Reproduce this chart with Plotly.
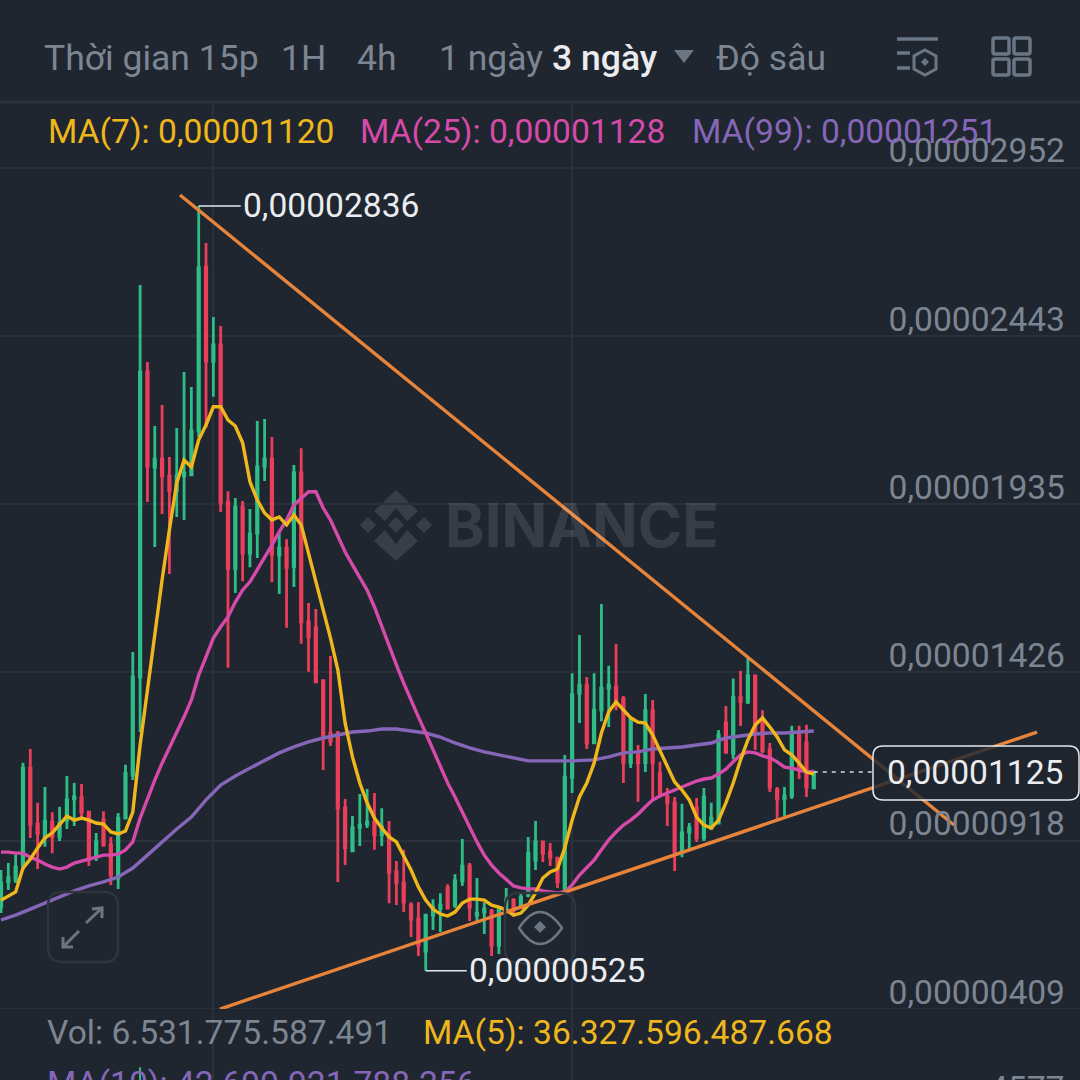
import plotly.graph_objects as go

# prices in units of 0.00000001
opens = [717,793,799,844,1137,968,926,974,929,980,1044,1047,1004,875,980,905,805,986,1116,1412,
 2334,2047,2071,2020,1975,2020,2023,2156,2651,2367,2416,1941,1741,1926,1787,1847,2050,2071,1781,1802,
 1747,2029,1579,1561,1401,1243,1243,1016,887,959,968,974,935,935,823,790,723,681,584,693,
 714,775,723,796,841,693,702,705,602,708,738,717,753,859,914,883,865,769,1110,1364,
 1388,1213,1312,1379,1382,1346,1153,1177,1153,1310,1122,1050,1032,887,944,1016,926,956,971,1273,
 1182,1351,1337,1416,1282,1192,1071,1044,1053,1237,1213,1077]
highs = [829,850,875,1153,1195,1032,1080,1004,1020,1113,1092,1089,1007,941,1007,929,1001,1147,1488,2597,
 2364,2171,2234,2077,2165,2334,2289,2836,2724,2500,2473,1974,1953,1944,1920,2186,2192,2138,1847,1829,
 2053,2104,1636,1618,1401,1476,1249,1044,992,1059,1074,1062,1016,977,856,890,732,732,693,741,
 759,786,816,923,850,805,732,711,714,775,744,759,929,977,917,911,868,1177,1424,1539,
 1412,1424,1633,1446,1512,1355,1288,1207,1361,1343,1156,1077,1050,1029,971,1047,1077,1032,1252,1325,
 1408,1431,1473,1416,1312,1213,1080,1080,1265,1265,1268,1125]
lows = [699,769,790,829,926,832,899,880,917,953,962,989,841,856,899,784,772,986,1101,1246,
 1941,1805,1905,1724,1896,1887,2020,2138,2165,2259,1911,1440,1666,1702,1744,1772,2005,1699,1663,1561,
 1684,1513,1428,1395,1131,1204,793,844,884,902,956,890,902,729,723,702,627,569,525,648,
 642,711,714,781,675,672,636,569,575,699,693,714,747,829,853,841,775,766,1062,1273,
 1195,1210,1279,1261,1312,1092,1137,1035,1125,1044,1050,962,826,868,887,914,917,950,968,1182,
 1164,1264,1331,1192,1182,1065,983,992,1044,1104,1050,1074]
closes = [790,805,838,1137,968,941,977,929,971,1041,1050,1004,866,914,905,814,986,1120,1412,2334,
 2050,2071,2020,1975,2020,2029,2156,2649,2367,2416,1941,1741,1926,1787,1844,2047,2071,1784,1802,1744,
 2029,1579,1534,1398,1237,1219,1016,896,956,965,974,935,959,823,790,732,681,602,693,717,
 723,714,796,841,717,699,711,602,708,738,708,747,880,914,880,868,793,1110,1358,1388,
 1213,1312,1379,1388,1337,1153,1282,1153,1310,1153,1053,1032,884,941,956,926,1050,986,1237,1185,
 1351,1339,1416,1243,1189,1080,1044,1053,1240,1131,1080,1125]

ma7 = [738,750,763,835,862,896,926,941,968,992,980,986,980,971,968,944,938,947,1004,1207,
 1373,1545,1706,1857,1999,2068,2047,2129,2174,2229,2229,2189,2171,2120,2002,1947,1908,1887,1896,1872,
 1902,1872,1787,1696,1615,1530,1434,1273,1171,1092,1032,986,956,929,914,874,829,778,738,711,
 696,690,702,729,741,741,738,723,717,708,693,699,723,760,805,823,832,896,980,1050,
 1092,1152,1243,1307,1337,1313,1289,1276,1273,1237,1189,1140,1095,1071,1041,989,965,956,980,1032,
 1092,1162,1222,1267,1289,1261,1231,1192,1177,1152,1125,1119]
ma25 = [883,883,880,880,868,859,847,838,832,838,850,856,862,868,874,874,877,890,914,986,
 1047,1101,1152,1198,1243,1292,1343,1418,1473,1530,1564,1594,1639,1675,1700,1736,1772,1811,1851,1887,
 1932,1953,1972,1972,1923,1887,1836,1790,1751,1712,1675,1624,1564,1509,1449,1394,1346,1292,1243,1192,
 1137,1092,1050,1004,959,914,874,844,820,799,781,775,772,772,766,763,760,763,784,814,
 835,859,890,920,944,965,980,998,1020,1041,1053,1062,1071,1080,1089,1098,1104,1107,1119,1134,
 1156,1177,1186,1183,1174,1168,1156,1140,1137,1131,1125,1128]
ma99_index = [0,2,4,6,8,10,12,14,16,18,20,22,24,26,28,30,32,34,36,38,40,42,44,46,48,50,52,54,56,58,
 60,62,64,66,68,70,72,74,76,78,81,83,85,87,89,91,93,95,97,99,101,103,105,107,109,111]
ma99 = [678,693,711,729,747,766,781,793,808,835,874,914,953,989,1041,1086,1113,1137,1159,1183,
 1201,1216,1228,1237,1246,1249,1255,1255,1249,1243,1231,1213,1198,1186,1177,1168,1159,1159,1159,1159,
 1162,1171,1183,1186,1195,1198,1201,1207,1213,1228,1234,1240,1243,1243,1246,1249]

trend_upper_x = [24.45, 130.15]
trend_upper_y = [2869, 965]
trend_lower_x = [29.9, 141.5]
trend_lower_y = [409, 1246]
last_price = 1125
last_price_x = [111, 119]
high_point = (27, 2836)
low_point = (58, 525)

spike_index = [19]
spike_volume = [18]

price_ticks = [409, 918, 1426, 1935, 2443, 2952]
price_tick_labels = ["0,00000409", "0,00000918", "0,00001426", "0,00001935", "0,00002443", "0,00002952"]
time_ticks = [29, 78]

BG = "#1F2630"
GRID = "#2B313B"
GREEN = "#2EBD85"
RED = "#EA3F5B"
YEL = "#EFB71C"
PINK = "#D64AAA"
PUR = "#8666B8"
ORANGE = "#E8843A"
GREY = "#7C8592"
ICON = "#6B7684"
WM = "#383E49"
FONT = "Roboto"
SIZE = 33.6
HEAD = 35.5

def X(v):
    return round(v / 1080, 5)

def Y(v):
    return round(1 - v / 1080, 5)

def poly(pts, close=True):
    s = "M " + " L ".join(f"{X(a)} {Y(b)}" for a, b in pts)
    return s + (" Z" if close else "")

def rrect(x0, y0, x1, y1, r):
    return (f"M {X(x0+r)} {Y(y0)} L {X(x1-r)} {Y(y0)} Q {X(x1)} {Y(y0)} {X(x1)} {Y(y0+r)} "
            f"L {X(x1)} {Y(y1-r)} Q {X(x1)} {Y(y1)} {X(x1-r)} {Y(y1)} "
            f"L {X(x0+r)} {Y(y1)} Q {X(x0)} {Y(y1)} {X(x0)} {Y(y1-r)} "
            f"L {X(x0)} {Y(y0+r)} Q {X(x0)} {Y(y0)} {X(x0+r)} {Y(y0)} Z")

def pshape(path, line=None, width=0, fill=None, layer="above"):
    d = dict(type="path", xref="paper", yref="paper", path=path, layer=layer,
             line=dict(color=line or "rgba(0,0,0,0)", width=width))
    if fill:
        d["fillcolor"] = fill
    return d

def txt(s, x, y, color=GREY, size=SIZE, anchor="left", weight=None, family=FONT):
    fnt = dict(family=family, size=size, color=color)
    if weight:
        fnt["weight"] = weight
    px = x - 3 if anchor == "left" else x + 3
    return dict(text=s, x=X(px), y=Y(y), xref="paper", yref="paper", showarrow=False,
                xanchor=anchor, yanchor="middle", font=fnt)

fig = go.Figure()
idx = list(range(len(opens)))
fig.add_trace(go.Bar(x=spike_index, y=spike_volume, yaxis="y2", width=0.22,
                     marker=dict(color=GREEN, line=dict(width=0)), showlegend=False))
fig.add_trace(go.Candlestick(x=idx, open=opens, high=highs, low=lows, close=closes,
    increasing=dict(line=dict(color=GREEN, width=2.8), fillcolor=GREEN),
    decreasing=dict(line=dict(color=RED, width=2.8), fillcolor=RED),
    whiskerwidth=0, showlegend=False))
fig.add_trace(go.Scatter(x=ma99_index, y=ma99, mode="lines", line=dict(color=PUR, width=3.4), showlegend=False))
fig.add_trace(go.Scatter(x=idx, y=ma25, mode="lines", line=dict(color=PINK, width=3.4), showlegend=False))
fig.add_trace(go.Scatter(x=idx, y=ma7, mode="lines", line=dict(color=YEL, width=3.4), showlegend=False))
fig.add_trace(go.Scatter(x=trend_upper_x, y=trend_upper_y, mode="lines", line=dict(color=ORANGE, width=3.4), showlegend=False))
fig.add_trace(go.Scatter(x=trend_lower_x, y=trend_lower_y, mode="lines", line=dict(color=ORANGE, width=3.4), showlegend=False))
fig.add_trace(go.Scatter(x=last_price_x, y=[last_price, last_price], mode="lines",
                         line=dict(color="#D5D9DF", width=1.5, dash="4px,5px"), showlegend=False))

shapes = [
    pshape(poly([(0, 102), (1080, 102)], False), line=GRID, width=3, layer="below"),
    # watermark logo
    pshape(poly([(396,490),(418,511),(407,521),(396,508),(385,521),(374,511)]), fill=WM, layer="below"),
    pshape(poly([(396,561),(418,541),(407,530),(396,544),(385,530),(374,541)]), fill=WM, layer="below"),
    pshape(poly([(368,517),(376,525),(368,533),(360,525)]), fill=WM, layer="below"),
    pshape(poly([(424,517),(432,525),(424,533),(416,525)]), fill=WM, layer="below"),
    pshape(poly([(396,517),(404,525),(396,533),(388,525)]), fill=WM, layer="below"),
    # last price box
    pshape(rrect(873, 746, 1079, 800, 10), line="#E4E7EB", width=1.5, fill="rgba(31,38,48,0.82)"),
    # top icons
    pshape(poly([(897,39),(938,39)], False), line=ICON, width=3.5),
    pshape(poly([(897,53),(910,53)], False), line=ICON, width=3.5),
    pshape(poly([(897,68),(910,68)], False), line=ICON, width=3.5),
    pshape(poly([(925,50),(936,56),(936,69),(925,75),(914,69),(914,56)]), line=ICON, width=3),
    pshape(poly([(925,58),(929,62),(925,66),(921,62)]), fill=ICON),
    pshape(rrect(993,38,1009,54,2), line=ICON, width=3.5),
    pshape(rrect(1014,38,1030,54,2), line=ICON, width=3.5),
    pshape(rrect(993,59,1009,75,2), line=ICON, width=3.5),
    pshape(rrect(1014,59,1030,75,2), line=ICON, width=3.5),
    pshape(poly([(674,50),(694,50),(684,63)]), fill=ICON),
    # expand button
    pshape(rrect(48,892,118,962,14), line="#2E3540", width=2.5),
    pshape(poly([(86,923),(102,908)], False), line=ICON, width=3),
    pshape(poly([(92,909),(102,908),(102,918)], False), line=ICON, width=3),
    pshape(poly([(79,931),(63,947)], False), line=ICON, width=3),
    pshape(poly([(63,937),(63,947),(73,947)], False), line=ICON, width=3),
    # eye button
    pshape(rrect(505,893,575,963,14), line="#2E3540", width=2.5),
    pshape(f"M {X(519)} {Y(928)} Q {X(540)} {Y(896)} {X(562)} {Y(928)} Q {X(540)} {Y(960)} {X(519)} {Y(928)} Z",
           line=ICON, width=2.5),
    pshape(poly([(540,921),(546,927),(540,933),(534,927)]), fill=ICON),
]

annos = [
    txt("Thời gian 15p", 45, 58, size=HEAD), txt("1H", 282, 58, size=HEAD), txt("4h", 358, 58, size=HEAD),
    txt("1 ngày", 440, 58, size=HEAD),
    txt("3 ngày", 553, 58, color="#EAECEF", weight=500, size=HEAD), txt("Độ sâu", 717, 58, size=HEAD),
    txt("MA(7): 0,00001120", 49, 132, color=YEL), txt("MA(25): 0,00001128", 361, 132, color=PINK),
    txt("MA(99): 0,00001251", 693, 132, color=PUR),
    txt("BINANCE", 446, 525, color="rgba(255,255,255,0.11)", size=60, weight=700, family="Inter"),
    txt("0,00001125", 888, 773, color="#EAECEF"),
    txt("Vol: 6.531.775.587.491", 48, 1033), txt("MA(5): 36.327.596.487.668", 424, 1033, color=YEL),
    txt("MA(10): 42.699.921.788.256", 48, 1083, color=PUR),
    txt("4577", 1064, 1089, anchor="right"),
    dict(x=high_point[0], y=high_point[1], xref="x", yref="y", text="0,00002836", showarrow=True,
         arrowhead=0, arrowwidth=1.5, arrowcolor="#E4E7EB", ax=42, ay=0, axref="pixel", ayref="pixel",
         xanchor="left", yanchor="middle", font=dict(family=FONT, size=SIZE, color="#EAECEF")),
    dict(x=low_point[0], y=low_point[1], xref="x", yref="y", text="0,00000525", showarrow=True,
         arrowhead=0, arrowwidth=1.5, arrowcolor="#E4E7EB", ax=41, ay=0, axref="pixel", ayref="pixel",
         xanchor="left", yanchor="middle", font=dict(family=FONT, size=SIZE, color="#EAECEF")),
]

fig.update_layout(
    width=1080, height=1080, margin=dict(l=0, r=0, t=0, b=0),
    paper_bgcolor=BG, plot_bgcolor=BG, showlegend=False, boxgap=0.72,
    font=dict(family=FONT, size=SIZE, color=GREY), hovermode=False,
    shapes=shapes, annotations=annos,
    xaxis=dict(range=[-0.137, 147.36], domain=[0, 1], rangeslider=dict(visible=False), showline=False,
               zeroline=False, showgrid=True, gridcolor=GRID, gridwidth=1.5, tickmode="array",
               tickvals=time_ticks, showticklabels=False, ticks=""),
    yaxis=dict(domain=[0, 978 / 1080], range=[194.5, 3150], side="right", showline=False, zeroline=False,
               showgrid=True, gridcolor=GRID, gridwidth=1.5, tickmode="array", tickvals=price_ticks,
               ticktext=price_tick_labels, ticklabelposition="inside", ticklabelstandoff=12,
               ticklabelshift=-17, ticks="", tickfont=dict(family=FONT, size=SIZE, color=GREY)),
    yaxis2=dict(domain=[0, 71 / 1080], range=[0, 100], anchor="x", visible=False),
)

fig.write_html("out.html", config=dict(displayModeBar=False),
               post_script="document.body.style.margin='0';document.body.style.background='#1F2630';")
